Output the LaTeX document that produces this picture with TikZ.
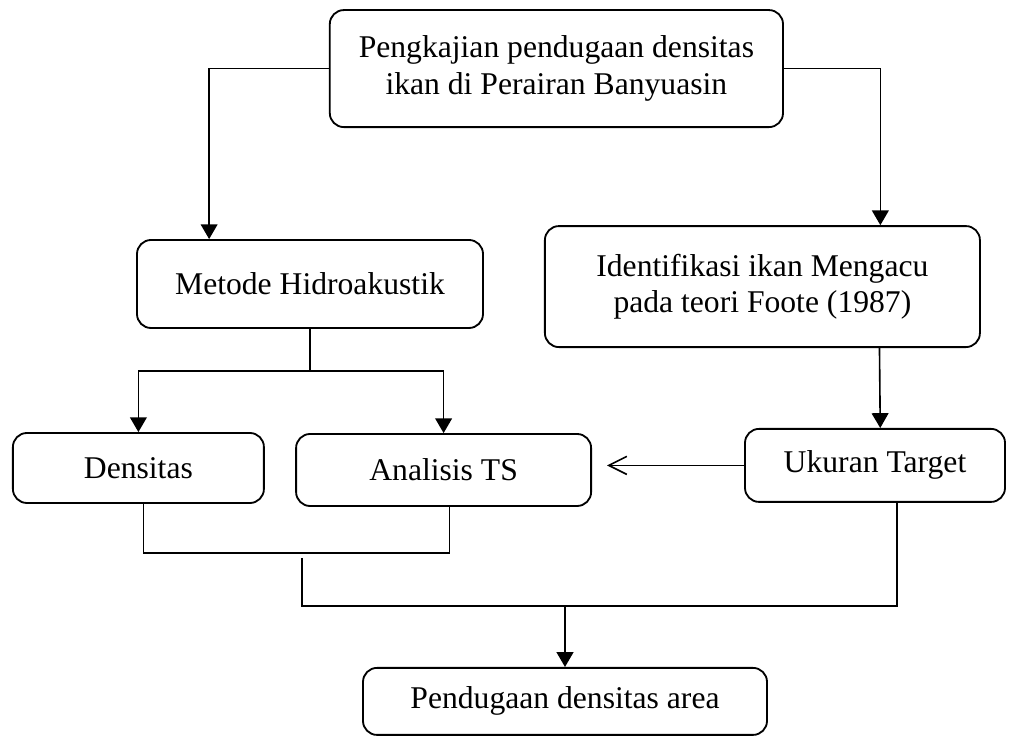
\documentclass[tikz,border=0pt]{standalone}
\usepackage{fontspec}
\setmainfont{Liberation Serif}
\usepackage{tikz}
\usetikzlibrary{arrows.meta, positioning, calc}

\begin{document}
\begin{tikzpicture}[font=\fontsize{22.5}{26}\selectfont]
\tikzstyle{box}=[rectangle, rounded corners=0.35cm, draw=black, line width=1.3pt, align=center, inner sep=0pt]
\tikzstyle{conn}=[-, line width=1.15pt]
\tikzstyle{arr}=[-{Triangle[length=0.37cm, width=0.42cm]}, line width=1.15pt]
\tikzstyle{open}=[-{Straight Barb[length=0.45cm, width=0.45cm]}, line width=1.15pt]
\useasboundingbox (0,0) rectangle (25.35,18.425);
% boxes
\node[box, minimum width=11.33cm, minimum height=2.925cm] (top) at (13.91, 16.71) {Pengkajian pendugaan densitas\\ikan di Perairan Banyuasin};
\node[box, minimum width=8.65cm, minimum height=2.2cm] (metode) at (7.75, 11.325) {Metode Hidroakustik};
\node[box, minimum width=10.875cm, minimum height=3.025cm] (ident) at (19.06, 11.26) {Identifikasi ikan Mengacu\\pada teori Foote (1987)};
\node[box, minimum width=6.275cm, minimum height=1.75cm] (dens) at (3.46, 6.725) {Densitas};
\node[box, minimum width=7.375cm, minimum height=1.8cm] (ts) at (11.09, 6.675) {Analisis TS};
\node[box, minimum width=6.5cm, minimum height=1.825cm] (ukuran) at (21.875, 6.79) {Ukuran Target};
\node[box, minimum width=10.1cm, minimum height=1.675cm] (final) at (14.125, 0.89) {Pendugaan densitas area};
% connectors
\draw[arr] (top.west) -| ($(metode.north west)!0.21!(metode.north east)$);
\draw[arr] (top.east) -| ($(ident.north west)!0.77!(ident.north east)$);
\draw[conn] (metode.south) -- ++(0,-1.05) coordinate (split);
\draw[arr] (split -| dens.north) -- (dens.north);
\draw[arr] (split -| ts.north) -- (ts.north);
\draw[conn] (split -| dens.north) -- (split -| ts.north);
\draw[arr] ($(ident.south west)!0.768!(ident.south east)$) -- ($(ukuran.north west)!0.52!(ukuran.north east)$);
\draw[open, shorten >=0.375cm] (ukuran.west) -- (ukuran.west -| ts.east);
\draw[conn] ($(dens.south west)!0.52!(dens.south east)$) -- ++(0,-1.225) -| ($(ts.south west)!0.52!(ts.south east)$);
\coordinate (j1) at (7.55, 4.475);
\coordinate (bus) at (final.north |- 0,3.275);
\draw[conn] (j1) |- (bus) -| ($(ukuran.south west)!0.585!(ukuran.south east)$);
\draw[arr] (bus) -- (final.north);
\end{tikzpicture}
\end{document}
